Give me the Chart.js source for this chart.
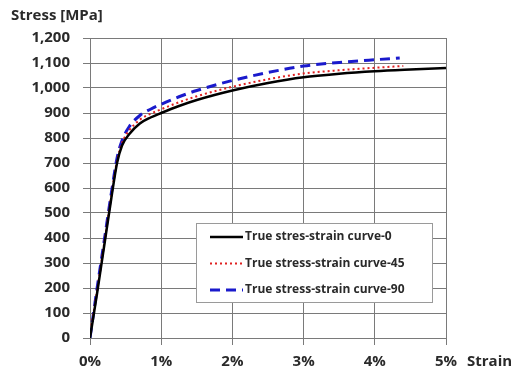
<!DOCTYPE html>
<html><head><meta charset="utf-8">
<script src="https://cdn.jsdelivr.net/npm/chart.js@4/dist/chart.umd.min.js"></script>
<style>html,body{margin:0;padding:0;background:#fff}#wrap{width:530px;height:376px}</style>
</head><body><div id="wrap"><canvas id="c" width="530" height="376"></canvas></div>
<script>
const seriesNames = ["True stres-strain curve-0", "True stress-strain curve-45", "True stress-strain curve-90"];
const strain0 = [0,0.1,0.2,0.3,0.38,0.45,0.55,0.7,0.85,1.0,1.25,1.5,2.0,2.5,3.0,3.5,4.0,4.5,5.0];
const stress0 = [0,180,370,560,700,770,815,858,882,900,928,952,990,1020,1043,1057,1067,1074,1080];
const strain45 = [0.02,0.1,0.2,0.3,0.38,0.45,0.55,0.7,0.85,1.0,1.25,1.5,2.0,2.5,3.0,3.5,4.0,4.4];
const stress45 = [50,190,380,570,710,780,830,873,897,915,943,967,1005,1035,1058,1071,1081,1088];
const strain90 = [0,0.1,0.2,0.3,0.38,0.45,0.55,0.7,0.85,1.0,1.25,1.5,2.0,2.5,3.0,3.5,4.0,4.35];
const stress90 = [0,200,390,580,720,790,845,890,915,935,965,990,1030,1062,1088,1102,1113,1120];
const xTicks = [0,1,2,3,4,5];
const yTicks = [0,100,200,300,400,500,600,700,800,900,1000,1100,1200];
const yTitle = "Stress [MPa]";
const xTitle = "Strain";

const pts = (xs, ys) => xs.map((x, i) => ({x, y: ys[i]}));
const FONT = "'Open Sans', Lato, sans-serif";
const TXT = "#2a2a2a";

const styles = [
  {color: "#000000", width: 2.5, dash: []},
  {color: "#e02020", width: 2, dash: [2, 3]},
  {color: "#1a1acc", width: 3, dash: [10, 6]}
];

const extras = {
  id: "extras",
  afterDraw(chart) {
    const ctx = chart.ctx;
    ctx.save();
    ctx.fillStyle = TXT;
    ctx.font = "bold 15px " + FONT;
    ctx.textBaseline = "middle";
    ctx.textAlign = "left";
    ctx.fillText(yTitle, 11, 16);
    ctx.fillText(xTitle, 467, 362);
    // legend box
    const bx = 196, by = 223, bw = 236, bh = 79;
    ctx.fillStyle = "#fff";
    ctx.fillRect(bx, by, bw, bh);
    ctx.strokeStyle = "#9a9a9a";
    ctx.lineWidth = 1;
    ctx.strokeRect(bx + 0.5, by + 0.5, bw, bh);
    ctx.font = "bold 12px " + FONT;
    seriesNames.forEach((name, i) => {
      const y = by + 14 + i * 26.5;
      const s = styles[i];
      ctx.strokeStyle = s.color;
      ctx.lineWidth = s.width;
      ctx.setLineDash(s.dash);
      ctx.beginPath();
      ctx.moveTo(210, y);
      ctx.lineTo(243, y);
      ctx.stroke();
      ctx.setLineDash([]);
      ctx.fillStyle = TXT;
      ctx.fillText(name, 245, y);
    });
    ctx.restore();
  }
};

new Chart(document.getElementById("c"), {
  type: "scatter",
  data: {
    datasets: [
      {label: seriesNames[0], data: pts(strain0, stress0)},
      {label: seriesNames[1], data: pts(strain45, stress45)},
      {label: seriesNames[2], data: pts(strain90, stress90)}
    ].map((d, i) => Object.assign(d, {
      showLine: true, borderColor: styles[i].color, borderWidth: styles[i].width,
      borderDash: styles[i].dash, pointRadius: 0, fill: false,
      cubicInterpolationMode: "monotone"
    }))
  },
  options: {
    responsive: false, animation: false,
    layout: {padding: {left: 0, right: 84, top: 38, bottom: 0}},
    plugins: {legend: {display: false}, tooltip: {enabled: false}},
    scales: {
      x: {
        type: "linear", min: 0, max: 5,
        afterBuildTicks: s => { s.ticks = xTicks.map(v => ({value: v})); },
        afterFit: s => { s.height = 38; },
        grid: {color: "#7a7a7a", lineWidth: 1, tickLength: 7, drawTicks: true},
        border: {color: "#7a7a7a"},
        ticks: {callback: v => v + "%", color: TXT, font: {family: FONT, size: 15, weight: "bold"}, padding: 8, maxRotation: 0}
      },
      y: {
        min: 0, max: 1200,
        afterBuildTicks: s => { s.ticks = yTicks.map(v => ({value: v})); },
        afterFit: s => { s.width = 90; },
        grid: {color: "#7a7a7a", lineWidth: 1, tickLength: 7},
        border: {color: "#7a7a7a"},
        ticks: {callback: v => v.toLocaleString("en-US"), color: TXT, font: {family: FONT, size: 15, weight: "bold"}, padding: 13}
      }
    }
  },
  plugins: [extras]
});
</script>
</body></html>
